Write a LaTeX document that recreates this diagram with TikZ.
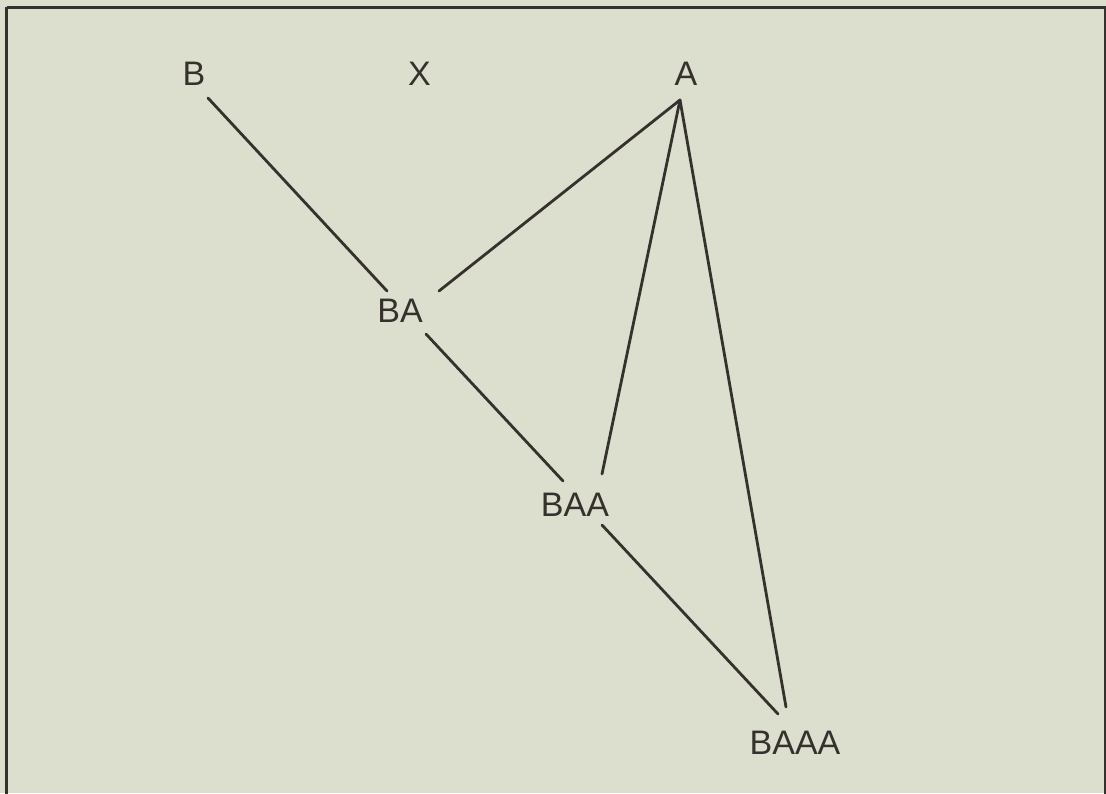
\documentclass[tikz,border=0pt]{standalone}
\usepackage{fontspec}
\setmainfont{Liberation Sans}
\definecolor{bg}{HTML}{DCDECE}
\definecolor{ink}{HTML}{35312D}
\tikzset{
  lbl/.style={inner sep=0pt, text height=25pt, text depth=0pt, text=ink,
    font=\fontsize{34}{40}\selectfont},
  edge/.style={draw=ink, line width=2.8pt, line cap=round},
  frame/.style={draw=ink, line width=3pt}
}
\begin{document}
\begin{tikzpicture}[x=1pt, y=-1pt]
\useasboundingbox (0,0) rectangle (1106,793);
\clip (0,0) rectangle (1106,793);
\fill[bg] (0,0) rectangle (1106,793);
\draw[frame] (6.5,7) -- (1105,7) -- (1105,820) (6.5,7) -- (6.5,820);
\node[lbl] (B) at (194,72.5) {B};
\node[lbl] (X) at (419.5,72.5) {X};
\node[lbl] (A) at (686,72.5) {A};
\node[lbl] (BA) at (400,309.5) {BA};
\node[lbl] (BAA) at (575,503.5) {BAA};
\node[lbl] (BAAA) at (795,741.5) {BAAA};
\coordinate (apex) at ([shift={(-6,27.5)}]A.center);
\draw[edge] ([shift={(14,25.5)}]B.center) -- ([shift={(-13,-18.5)}]BA.center);
\draw[edge] (apex) -- ([shift={(39,-18.5)}]BA.center);
\draw[edge] (apex) -- ([shift={(27,-29.5)}]BAA.center);
\draw[edge] (apex) -- ([shift={(-9,-34.5)}]BAAA.center);
\draw[edge] ([shift={(26,24.5)}]BA.center) -- ([shift={(-12,-22.5)}]BAA.center);
\draw[edge] ([shift={(27,21.5)}]BAA.center) -- ([shift={(-17,-27.5)}]BAAA.center);
\end{tikzpicture}
\end{document}
